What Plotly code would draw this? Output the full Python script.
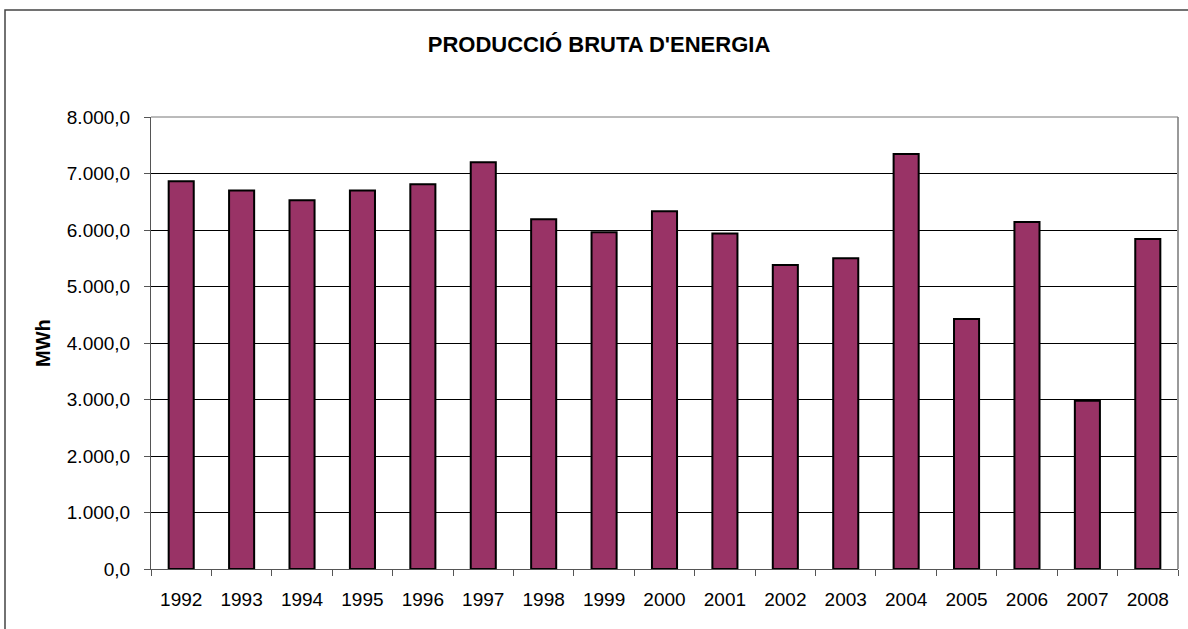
import plotly.graph_objects as go

years = ["1992", "1993", "1994", "1995", "1996", "1997", "1998", "1999", "2000",
         "2001", "2002", "2003", "2004", "2005", "2006", "2007", "2008"]
production_mwh = [6865, 6700, 6525, 6700, 6810, 7200, 6190, 5960, 6330,
                  5940, 5380, 5500, 7345, 4425, 6140, 2980, 5840]
y_ticks = [0, 1000, 2000, 3000, 4000, 5000, 6000, 7000, 8000]

FONT = "Liberation Sans, Arial, sans-serif"

fig = go.Figure()
fig.add_trace(go.Bar(
    x=years, y=production_mwh,
    marker=dict(color="#993366", line=dict(color="#000000", width=2)),
))

L, R, T, B = 151, 10, 117, 60
W, H = 1188, 629
pw = W - L - R
ph = H - T - B

def px_to_paper_x(px):
    return (px - L) / pw

def px_to_paper_y(py):
    return (H - B - py) / ph

fig.update_layout(
    width=W, height=H,
    margin=dict(l=L, r=R, t=T, b=B, autoexpand=False),
    paper_bgcolor="white", plot_bgcolor="white",
    separators=",.",
    showlegend=False,
    bargap=0.585,
    font=dict(family=FONT, size=19, color="#000000"),
    title=dict(text="<b>PRODUCCIÓ BRUTA D'ENERGIA</b>", x=599 / W, xanchor="center",
               y=1 - 44 / H, yanchor="middle",
               font=dict(family=FONT, size=22, color="#000000")),
    xaxis=dict(
        type="category", tickson="boundaries", ticks="outside", ticklen=6,
        tickcolor="#555555", showline=True, linecolor="#555555", linewidth=1,
        showgrid=False, tickfont=dict(size=19), ticklabelstandoff=13,
    ),
    yaxis=dict(
        range=[0, 8000], tickvals=y_ticks, tickformat=",.1f",
        ticks="outside", ticklen=6, tickcolor="#555555",
        showline=True, linecolor="#555555", linewidth=1,
        showgrid=True, gridcolor="#000000", gridwidth=1,
        zeroline=False, tickfont=dict(size=19), ticklabelstandoff=10,
    ),
    annotations=[
        dict(text="<b>MWh</b>", xref="paper", yref="paper",
             x=px_to_paper_x(43), y=px_to_paper_y(343),
             xanchor="center", yanchor="middle", textangle=-90,
             showarrow=False, font=dict(family=FONT, size=20, color="#000000")),
    ],
    shapes=[
        dict(type="line", xref="paper", yref="paper", x0=1, x1=1, y0=0, y1=1,
             line=dict(color="#999999", width=2)),
        dict(type="line", xref="paper", yref="paper", x0=0, x1=1, y0=1, y1=1,
             line=dict(color="#777777", width=1)),
        dict(type="rect", xref="paper", yref="paper",
             x0=px_to_paper_x(5), x1=px_to_paper_x(1230),
             y0=px_to_paper_y(680), y1=px_to_paper_y(10),
             line=dict(color="#444444", width=1.5), fillcolor="rgba(0,0,0,0)",
             layer="above"),
    ],
)

fig.write_html("out.html", config={"displayModeBar": False},
               post_script="document.body.style.margin='0px';document.body.style.overflow='hidden';")
